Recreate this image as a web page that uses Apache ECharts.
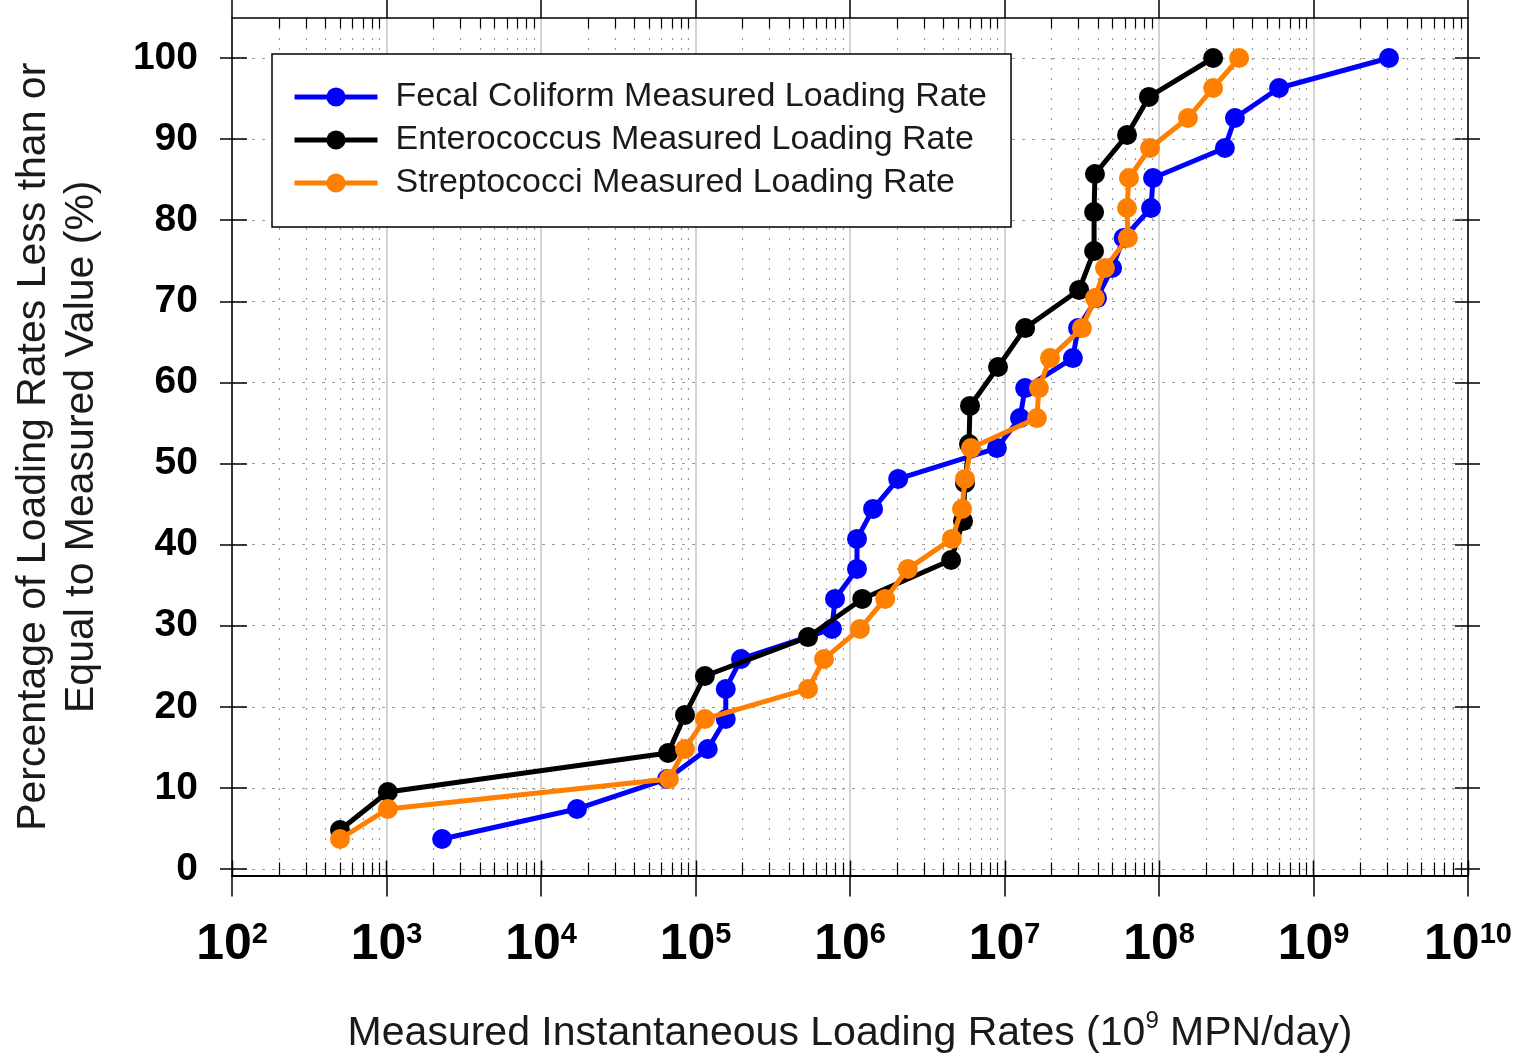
<!DOCTYPE html>
<html><head><meta charset="utf-8">
<script src="https://cdn.jsdelivr.net/npm/echarts@6/dist/echarts.min.js"></script>
<style>html,body{margin:0;padding:0;background:#fff}#c{width:1518px;height:1059px}</style>
</head><body><div id="c"></div>
<script>
// ---------- data ----------
const seriesNames = ['Fecal Coliform Measured Loading Rate', 'Enterococcus Measured Loading Rate', 'Streptococci Measured Loading Rate'];
const seriesColors = ['#0000ff', '#000000', '#ff7f00'];

const fecalX = [2.29e3, 1.71e4, 6.55e4, 1.20e5, 1.57e5, 1.57e5, 1.97e5, 7.64e5, 8.0e5, 1.11e6, 1.11e6, 1.41e6, 2.05e6, 8.93e6, 1.26e7, 1.36e7, 2.77e7, 2.99e7, 3.97e7, 4.97e7, 5.90e7, 8.88e7, 9.15e7, 2.67e8, 3.10e8, 5.98e8, 3.08e9];
const fecalY = [3.7, 7.4, 11.1, 14.8, 18.5, 22.2, 25.9, 29.6, 33.3, 37.0, 40.7, 44.4, 48.1, 51.9, 55.6, 59.3, 63.0, 66.7, 70.4, 74.1, 77.8, 81.5, 85.2, 88.9, 92.6, 96.3, 100];

const enteroX = [500, 1.02e3, 6.64e4, 8.55e4, 1.15e5, 5.35e5, 1.20e6, 4.51e6, 5.39e6, 5.55e6, 5.89e6, 5.98e6, 9.08e6, 1.36e7, 3.04e7, 3.80e7, 3.80e7, 3.85e7, 6.21e7, 8.61e7, 2.24e8];
const enteroY = [4.8, 9.5, 14.3, 19.0, 23.8, 28.6, 33.3, 38.1, 42.9, 47.6, 52.4, 57.1, 61.9, 66.7, 71.4, 76.2, 81.0, 85.7, 90.5, 95.2, 100];

const streptoX = [500, 1.02e3, 6.73e4, 8.55e4, 1.15e5, 5.35e5, 6.79e5, 1.16e6, 1.69e6, 2.37e6, 4.57e6, 5.31e6, 5.55e6, 6.07e6, 1.62e7, 1.67e7, 1.97e7, 3.17e7, 3.85e7, 4.47e7, 6.29e7, 6.21e7, 6.39e7, 8.75e7, 1.54e8, 2.24e8, 3.30e8];
const streptoY = [3.7, 7.4, 11.1, 14.8, 18.5, 22.2, 25.9, 29.6, 33.3, 37.0, 40.7, 44.4, 48.1, 51.9, 55.6, 59.3, 63.0, 66.7, 70.4, 74.1, 77.8, 81.5, 85.2, 88.9, 92.6, 96.3, 100];

// ticks
const xDecadeExponents = [2, 3, 4, 5, 6, 7, 8, 9, 10];
const xMinorMultipliers = [2, 3, 4, 5, 6, 7, 8, 9];
const yTickValues = [0, 10, 20, 30, 40, 50, 60, 70, 80, 90, 100];

const xTitleText = '{a|Measured Instantaneous Loading Rates (10}{s|9}{a| MPN/day)}';
const yTitleText = 'Percentage of Loading Rates Less than or\nEqual to Measured Value (%)';

// ---------- build ----------
const zip = (xs, ys) => xs.map((x, i) => [x, ys[i]]);
const seriesData = [zip(fecalX, fecalY), zip(enteroX, enteroY), zip(streptoX, streptoY)];

const tickMarks = [];
xDecadeExponents.forEach((e, i) => {
  const base = Math.pow(10, e);
  tickMarks.push([base, 0, 1]);
  if (i < xDecadeExponents.length - 1) {
    xMinorMultipliers.forEach(m => tickMarks.push([m * base, 0, 0]));
  }
});

const SANS = "'Liberation Sans', Arial, sans-serif";
const X_MIN = Math.pow(10, xDecadeExponents[0]);
const X_MAX = Math.pow(10, xDecadeExponents[xDecadeExponents.length - 1]);

const chart = echarts.init(document.getElementById('c'), null, {renderer: 'canvas'});

const lineSeries = seriesNames.map((name, i) => ({
  name: name,
  type: 'line',
  xAxisIndex: 2,
  yAxisIndex: 2,
  data: seriesData[i],
  symbol: 'circle',
  symbolSize: 20,
  showSymbol: true,
  clip: false,
  z: 3 + i,
  lineStyle: {width: 5, color: seriesColors[i]},
  itemStyle: {color: seriesColors[i]},
  emphasis: {disabled: true}
}));

const option = {
  backgroundColor: '#fff',
  animation: false,
  grid: [
    {left: 232, right: 50, top: 18, bottom: 182, containLabel: false},
    {left: 232, right: 50, top: 58, bottom: 190, containLabel: false}
  ],
  legend: {
    data: seriesNames,
    orient: 'vertical',
    left: 272, top: 54,
    padding: [25, 24, 26, 20],
    itemWidth: 83, itemHeight: 24, itemGap: 7,
    backgroundColor: '#fff', borderColor: '#000', borderWidth: 1.5, borderRadius: 0,
    selectedMode: false,
    lineStyle: {width: 5},
    textStyle: {fontSize: 34, fontFamily: SANS, color: '#1a1a1a', lineHeight: 36, padding: [0, 0, 0, 13]}
  },
  xAxis: [
    { // frame bottom
      gridIndex: 0, type: 'log', logBase: 10, min: X_MIN, max: X_MAX, interval: 1, position: 'bottom',
      axisLine: {show: true, onZero: false, lineStyle: {color: '#000', width: 2}},
      axisTick: {show: true, inside: false, length: 21, lineStyle: {color: '#000', width: 1.5}},
      axisLabel: {
        margin: 45,
        formatter: v => '{b|10}{s|' + xDecadeExponents[Math.round(Math.log10(v)) - xDecadeExponents[0]] + '}',
        rich: {
          b: {fontSize: 50, fontWeight: 'bold', fontFamily: SANS, color: '#000', lineHeight: 50},
          s: {fontSize: 29, fontWeight: 'bold', fontFamily: SANS, color: '#000', lineHeight: 29, verticalAlign: 'top'}
        }
      },
      splitLine: {show: true, lineStyle: {color: '#c4c4c4', width: 1.5, type: 'solid'}},
      name: xTitleText, nameLocation: 'middle', nameGap: 134,
      nameTextStyle: {
        rich: {
          a: {fontSize: 41, fontFamily: SANS, color: '#1a1a1a', lineHeight: 48},
          s: {fontSize: 24, fontFamily: SANS, color: '#1a1a1a', lineHeight: 24, verticalAlign: 'top'}
        }
      }
    },
    { // frame top
      gridIndex: 0, type: 'log', logBase: 10, min: X_MIN, max: X_MAX, interval: 1, position: 'top',
      axisLine: {show: true, onZero: false, lineStyle: {color: '#000', width: 1.5}},
      axisTick: {show: true, inside: false, length: 20, lineStyle: {color: '#000', width: 1.5}},
      axisLabel: {show: false},
      splitLine: {show: false}
    },
    { // data x
      gridIndex: 1, type: 'log', logBase: 10, min: X_MIN, max: X_MAX, interval: 1, show: false
    }
  ],
  yAxis: [
    { // frame left
      gridIndex: 0, type: 'value', min: 0, max: 1, position: 'left',
      axisLine: {show: true, onZero: false, lineStyle: {color: '#000', width: 1.5}},
      axisTick: {show: false}, axisLabel: {show: false}, splitLine: {show: false},
      name: yTitleText, nameLocation: 'middle', nameRotate: 90, nameGap: 126,
      nameTextStyle: {fontSize: 41, fontFamily: SANS, color: '#1a1a1a', lineHeight: 48, align: 'center'}
    },
    { // frame right
      gridIndex: 0, type: 'value', min: 0, max: 1, position: 'right',
      axisLine: {show: true, onZero: false, lineStyle: {color: '#000', width: 1.5}},
      axisTick: {show: false}, axisLabel: {show: false}, splitLine: {show: false}
    },
    { // data left, labels + outward ticks + dotted grid
      gridIndex: 1, type: 'value', min: yTickValues[0], max: yTickValues[yTickValues.length - 1], interval: 10, position: 'left',
      axisLine: {show: false},
      axisTick: {show: true, inside: false, length: 12, lineStyle: {color: '#000', width: 1.5}},
      axisLabel: {margin: 34, fontSize: 39, fontWeight: 'bold', fontFamily: SANS, color: '#000'},
      splitLine: {show: true, lineStyle: {color: '#9a9a9a', width: 1.2, type: [3, 7]}}
    },
    { // data left, inward ticks
      gridIndex: 1, type: 'value', min: yTickValues[0], max: yTickValues[yTickValues.length - 1], interval: 10, position: 'left',
      axisLine: {show: false},
      axisTick: {show: true, inside: true, length: 15, lineStyle: {color: '#000', width: 1.5}},
      axisLabel: {show: false}, splitLine: {show: false}
    },
    { // data right, outward
      gridIndex: 1, type: 'value', min: yTickValues[0], max: yTickValues[yTickValues.length - 1], interval: 10, position: 'right',
      axisLine: {show: false},
      axisTick: {show: true, inside: false, length: 12, lineStyle: {color: '#000', width: 1.5}},
      axisLabel: {show: false}, splitLine: {show: false}
    },
    { // data right, inward
      gridIndex: 1, type: 'value', min: yTickValues[0], max: yTickValues[yTickValues.length - 1], interval: 10, position: 'right',
      axisLine: {show: false},
      axisTick: {show: true, inside: true, length: 13, lineStyle: {color: '#000', width: 1.5}},
      axisLabel: {show: false}, splitLine: {show: false}
    }
  ],
  series: [
    {
      type: 'custom',
      name: 'minorTicks',
      coordinateSystem: 'cartesian2d',
      xAxisIndex: 0, yAxisIndex: 0,
      silent: true, z: 1, clip: false,
      encode: {x: 0, y: 1},
      data: tickMarks,
      renderItem: function (params, api) {
        const v = api.value(0);
        const major = api.value(2) === 1;
        const pb = api.coord([v, 0]);
        const pt = api.coord([v, 1]);
        const x = Math.round(pb[0]) + 0.5;
        const children = [];
        if (!major) {
          children.push({type: 'line', shape: {x1: x, y1: pt[1], x2: x, y2: pb[1]},
            style: {stroke: '#9a9a9a', lineWidth: 1.2, lineDash: [2, 8]}});
          children.push({type: 'line', shape: {x1: x, y1: pt[1], x2: x, y2: pt[1] + 10},
            style: {stroke: '#000', lineWidth: 1.2}});
        }
        children.push({type: 'line', shape: {x1: x, y1: pb[1], x2: x, y2: pb[1] - (major ? 15 : 13)},
          style: {stroke: '#000', lineWidth: major ? 1.5 : 1.2}});
        return {type: 'group', children: children};
      }
    }
  ].concat(lineSeries)
};
chart.setOption(option);
</script>
</body></html>
